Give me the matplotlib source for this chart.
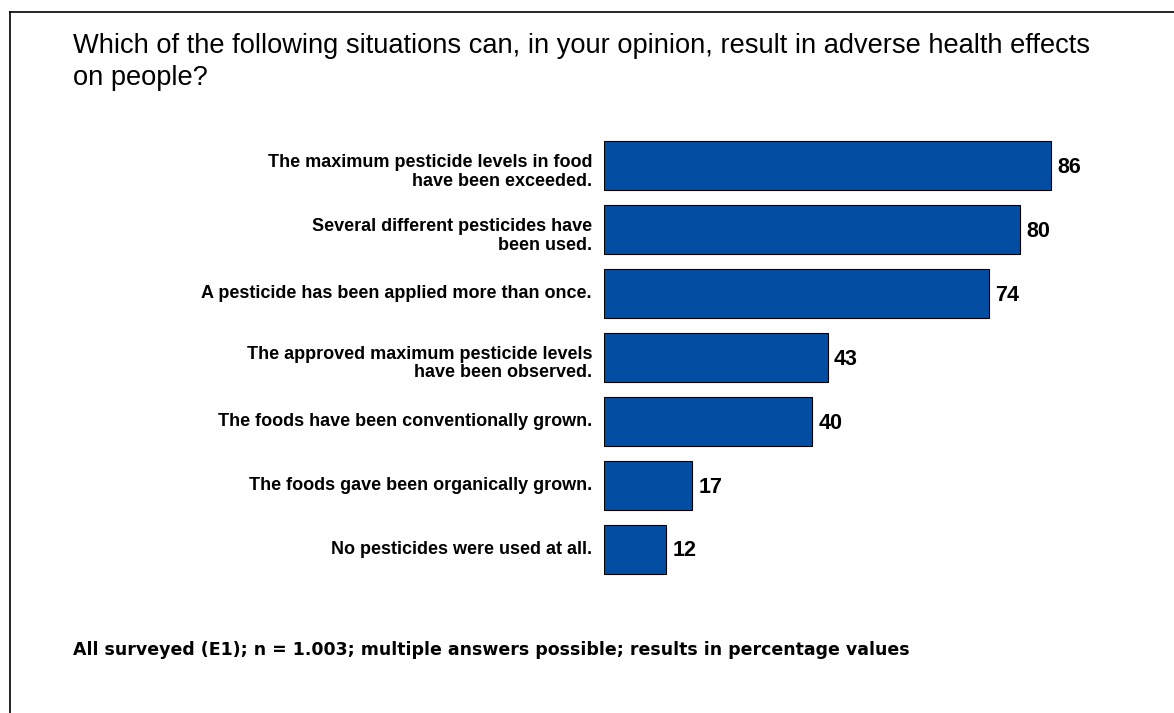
import matplotlib
matplotlib.use("Agg")
import matplotlib.pyplot as plt
from matplotlib.lines import Line2D

labels = [
    "The maximum pesticide levels in food\nhave been exceeded.",
    "Several different pesticides have\nbeen used.",
    "A pesticide has been applied more than once.",
    "The approved maximum pesticide levels\nhave been observed.",
    "The foods have been conventionally grown.",
    "The foods gave been organically grown.",
    "No pesticides were used at all.",
]
values = [86, 80, 74, 43, 40, 17, 12]

title = ("Which of the following situations can, in your opinion, result in adverse health effects\n"
         "on people?")
note = "All surveyed (E1); n = 1.003; multiple answers possible; results in percentage values"

W, H = 1174, 713
fig = plt.figure(figsize=(W / 100, H / 100), dpi=100)
ax = fig.add_axes([604 / W, 1 - 581 / H, 520 / W, 447.5 / H])

ypos = list(range(len(values)))
ax.barh(ypos, values, height=0.766, color="#034ea2", edgecolor="black", linewidth=0.8)
ax.set_xlim(0, 100)
ax.set_ylim(len(values) - 0.5, -0.5)

for y, v, lab in zip(ypos, values, labels):
    ax.text(v + 1.2, y + 0.03, str(v), va="center", ha="left", fontsize=15.5,
            fontweight="bold", family="Liberation Sans")
    shift = 0.1 if "\n" in lab else 0.0
    ax.text(-2.3, y + shift, lab, va="center", ha="right", fontsize=13,
            fontweight="bold", family="Liberation Sans", multialignment="right",
            linespacing=1.13)

ax.axis("off")

fig.text(73 / W, 1 - 62 / H, title, fontsize=19.65, family="Liberation Sans",
         ha="left", va="center", linespacing=1.34)
fig.text(73 / W, 1 - 650 / H, note, fontsize=12.5, fontweight="bold",
         family="DejaVu Sans", ha="left", va="center")

# frame
fig.add_artist(Line2D([10 / W, 1], [1 - 12 / H, 1 - 12 / H], color="black", lw=1.2))
fig.add_artist(Line2D([10 / W, 10 / W], [0, 1 - 12 / H], color="black", lw=1.2))

fig.savefig("out.png", dpi=100)
